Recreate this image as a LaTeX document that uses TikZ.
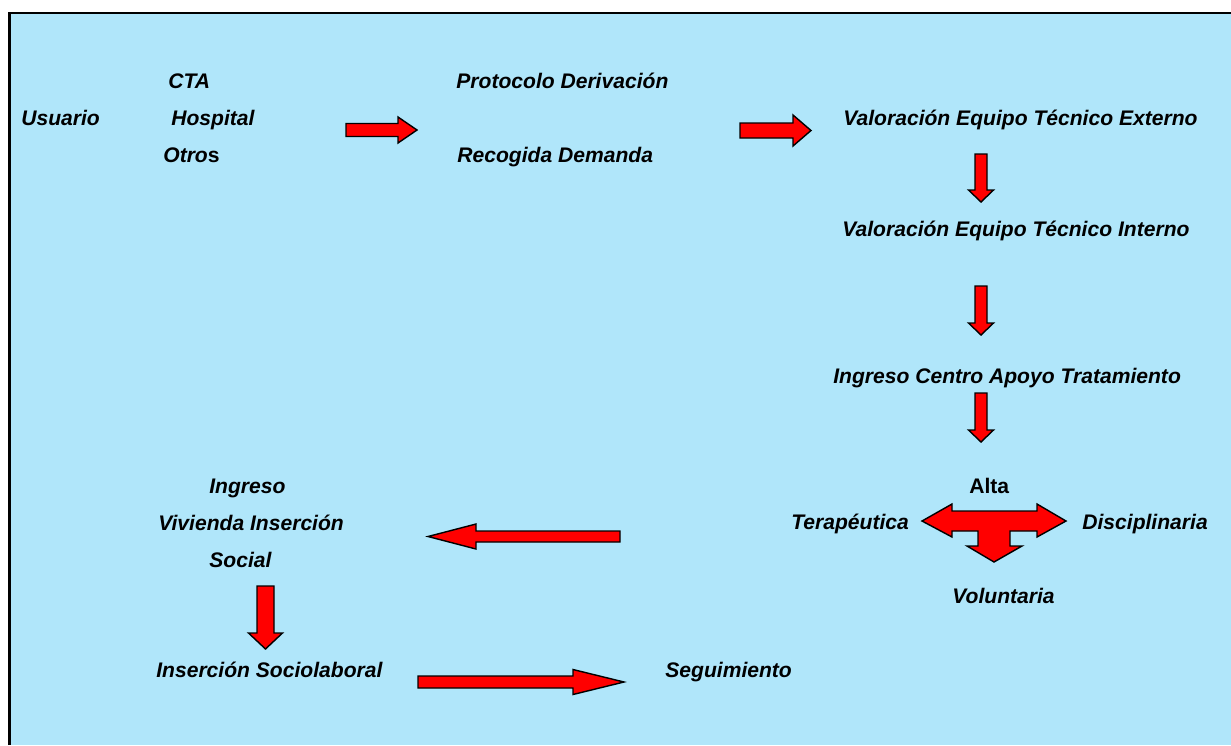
\documentclass[tikz,border=0pt]{standalone}
\usepackage{fontspec}
\setmainfont{Liberation Sans}
\definecolor{fondo}{RGB}{176,230,250}
\definecolor{rojo}{RGB}{255,0,0}
\tikzset{
  flecha/.style={draw=black, fill=rojo, line width=0.8pt, line join=miter},
  % flecha de bloque: largo / medio ancho del cuerpo / medio ancho de la punta / largo de la punta
  pics/bloque/.style args={#1/#2/#3/#4}{code={%
      \draw[flecha] (0,-#2) -- (#1-#4,-#2) -- (#1-#4,-#3) -- (#1,0)
        -- (#1-#4,#3) -- (#1-#4,#2) -- (0,#2) -- cycle;}},
}
\begin{document}
\begin{tikzpicture}[x=0.02cm, y=-0.02cm,
        every node/.style={inner sep=0pt, anchor=base west,
          font=\fontsize{12}{14}\selectfont\bfseries\itshape}]
    \useasboundingbox (0,0) rectangle (1231,745);
    % Fondo y marco
    \fill[fondo] (9.5,13) rectangle (1231,745);
    \draw[line width=1.4pt] (9.5,745) -- (9.5,13) -- (1231,13);
    % Origen de la demanda
    \node (usuario) at (21,125) {Usuario};
    \node (cta) at (168,88) {CTA};
    \node (hospital) at (171,125) {Hospital};
    \node (otros) at (163,162) {Otro{\upshape s}};
    \node (protocolo) at (456,88) {Protocolo Derivación};
    \node (recogida) at (457,162) {Recogida Demanda};
    % Valoraciones e ingreso
    \node (externo) at (843,125) {Valoración Equipo Técnico Externo};
    \node (interno) at (842,236) {Valoración Equipo Técnico Interno};
    \node (ingresocat) at (833,383) {Ingreso Centro Apoyo Tratamiento};
    % Tipos de alta
    \node[font=\fontsize{12}{14}\selectfont\bfseries] (alta) at (969,493) {Alta};
    \node (terapeutica) at (791,529) {Terapéutica};
    \node (disciplinaria) at (1082,529) {Disciplinaria};
    \node (voluntaria) at (952,603) {Voluntaria};
    % Inserción
    \node (ingreso) at (209,493) {Ingreso};
    \node (vivienda) at (158,530) {Vivienda Inserción};
    \node (social) at (209,567) {Social};
    \node (sociolaboral) at (156,677) {Inserción Sociolaboral};
    \node (seguimiento) at (665,677) {Seguimiento};
    % Flechas
    \pic at (346,130) {bloque=71/6.5/13/19};
    \pic at (740,130.5) {bloque=71/7.5/15.5/18};
    \pic[rotate=-90] at (981,154) {bloque=48/6/12.5/12};
    \pic[rotate=-90] at (981,286) {bloque=49/6/12.5/12};
    \pic[rotate=-90] at (981,393) {bloque=49/6/12.5/12};
    \pic[rotate=180] at (620,536.5) {bloque=192/5.5/12.5/48};
    \pic[rotate=-90] at (265.5,586) {bloque=63/8.5/17/16};
    \pic at (418,682) {bloque=206/6/12.5/51};
    % Flecha de tres puntas del alta
    \draw[flecha] (922,521) -- (952,504) -- (952,511) -- (1037,511) -- (1037,504)
        -- (1066,521) -- (1037,537) -- (1037,531) -- (1010,531) -- (1010,546)
        -- (1022,546) -- (994,562) -- (967,546) -- (978,546) -- (978,531)
        -- (952,531) -- (952,537) -- cycle;
\end{tikzpicture}
\end{document}
